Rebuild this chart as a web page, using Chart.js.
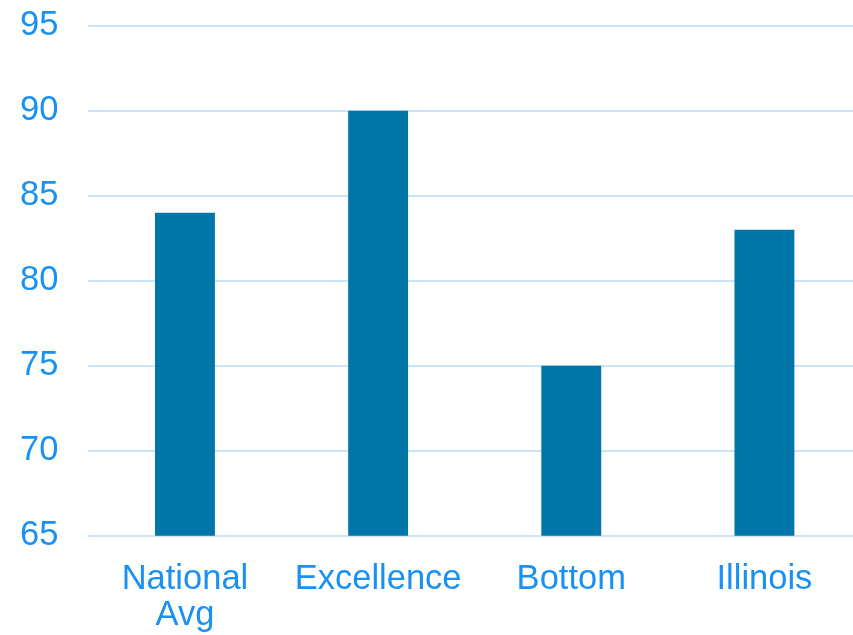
<!DOCTYPE html>
<html lang="en">
<head>
    <meta charset="UTF-8">
    <title>Scores</title>
    <script src="https://cdn.jsdelivr.net/npm/chart.js"></script>
    <style>
        html, body { margin: 0; padding: 0; background: #ffffff; overflow: hidden; }
        /* box is nudged up/left and runs past the right edge, like the original slide crop */
        .chart-box { width: 891px; height: 676px; margin-left: -30px; margin-top: -25px; }
    </style>
</head>
<body>
    <div class="chart-box">
        <canvas id="scoreChart"></canvas>
    </div>

    <script>
        // Chart data
        const categories = [['National', 'Avg'], 'Excellence', 'Bottom', 'Illinois'];
        const scores = [84, 90, 75, 83];
        const yMin = 65;
        const yMax = 95;
        const yStep = 5;

        const labelColor = '#1a91f2';
        const gridColor = '#c9e4fb';
        const barColor = '#0076a8';
        const fontFamily = 'Liberation Sans, Arial, sans-serif';

        new Chart(document.getElementById('scoreChart'), {
            type: 'bar',
            data: {
                labels: categories,
                datasets: [{
                    data: scores,
                    backgroundColor: barColor,
                    barPercentage: 0.31,
                    categoryPercentage: 1.0
                }]
            },
            options: {
                responsive: true,
                maintainAspectRatio: false,
                animation: false,
                layout: {
                    padding: { top: 0, right: 0, bottom: 0, left: 20 }
                },
                plugins: {
                    legend: { display: false },
                    tooltip: { enabled: false }
                },
                scales: {
                    x: {
                        grid: { display: false },
                        border: { display: false },
                        ticks: {
                            color: labelColor,
                            font: { family: fontFamily, size: 34.5, lineHeight: 1.06 },
                            padding: 17,
                            maxRotation: 0,
                            autoSkip: false
                        }
                    },
                    y: {
                        min: yMin,
                        max: yMax,
                        grid: {
                            color: gridColor,
                            lineWidth: 2,
                            drawTicks: false
                        },
                        border: { display: false },
                        ticks: {
                            stepSize: yStep,
                            color: labelColor,
                            font: { family: fontFamily, size: 34.5 },
                            padding: 30
                        }
                    }
                }
            }
        });
    </script>
</body>
</html>
